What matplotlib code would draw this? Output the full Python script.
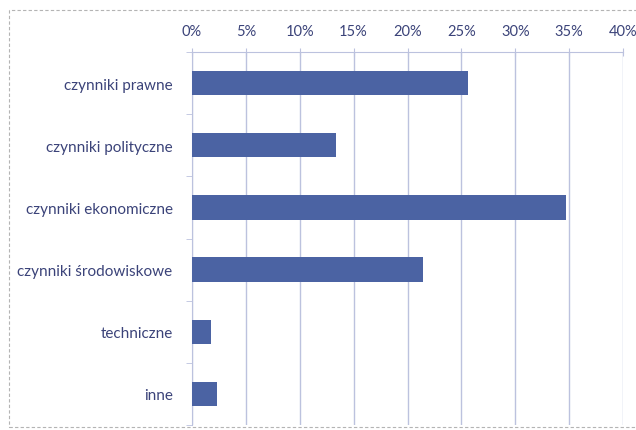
import matplotlib.pyplot as plt
import numpy as np
from matplotlib.patches import Rectangle

categories = [
    "czynniki prawne",
    "czynniki polityczne",
    "czynniki ekonomiczne",
    "czynniki środowiskowe",
    "techniczne",
    "inne",
]
shares = [25.6, 13.4, 34.7, 21.4, 1.8, 2.3]
x_ticks = [0, 5, 10, 15, 20, 25, 30, 35, 40]

bar_color = "#4b63a3"
text_color = "#3b4379"
grid_color = "#bcc2de"

plt.rcParams["font.family"] = ["Lato", "DejaVu Sans"]

fig = plt.figure(figsize=(6.36, 4.31), dpi=100)
ax = fig.add_axes([192 / 636, 1 - 426 / 431, 431 / 636, 373 / 431])

y = np.arange(len(categories))
ax.barh(y, shares, height=0.39, color=bar_color, zorder=3)

ax.set_xlim(0, 40)
ax.set_ylim(len(categories) - 0.5, -0.5)

ax.xaxis.tick_top()
ax.set_xticks(x_ticks)
ax.set_xticklabels([f"{t}%" for t in x_ticks], color=text_color, fontsize=10.5)
ax.tick_params(axis="x", direction="inout", length=6, color=grid_color, pad=7)
ax.grid(axis="x", color=grid_color, linewidth=1, zorder=0)

# category labels centred on bars, ticks between categories
ax.set_yticks(y)
ax.set_yticklabels(categories, color=text_color, fontsize=11)
ax.tick_params(axis="y", length=0, pad=14)
ax.set_yticks(np.arange(len(categories) + 1) - 0.5, minor=True)
ax.tick_params(axis="y", which="minor", direction="out", length=4, color=grid_color)

for side in ["right", "bottom"]:
    ax.spines[side].set_visible(False)
ax.spines["left"].set_color(grid_color)
ax.spines["top"].set_color(grid_color)

# faint dashed frame, open on the right where the image is cropped
fig.patches.append(Rectangle((9 / 636, 3 / 431), 640 / 636, 417 / 431,
                             transform=fig.transFigure, fill=False,
                             edgecolor="#b4b4b4", linestyle=(0, (3, 2)),
                             linewidth=0.8, clip_on=False))

fig.savefig("out.png", dpi=100)
